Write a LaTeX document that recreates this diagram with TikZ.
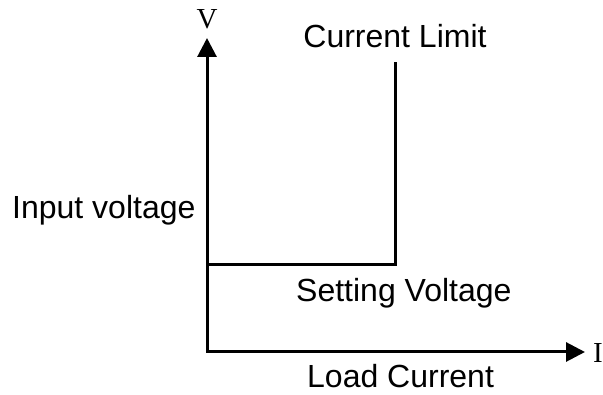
\documentclass[tikz,border=0pt]{standalone}
\usepackage{fontspec}
\setmainfont{Liberation Sans}
\newfontfamily\axisfont{Liberation Serif}
\usetikzlibrary{arrows.meta,positioning}

\begin{document}
\begin{tikzpicture}[
        x=1pt,
        y=-1pt,
        axis/.style={
            {Triangle[length=19pt,width=19pt]}-{Triangle[length=19pt,width=19pt]},
            line width=3pt
        },
        curve/.style={
            line width=3pt
        },
        txt/.style={
            inner sep=0pt,
            font=\fontsize{32}{38}\selectfont
        },
        axislabel/.style={
            inner sep=0pt,
            font=\axisfont\fontsize{29}{34}\selectfont
        }
    ]
        \useasboundingbox (0,0) rectangle (603,395);

        \coordinate (origin) at (207,352);
        \coordinate (vtip) at (207,38);
        \coordinate (itip) at (585,352);
        \coordinate (setting) at (207,265);
        \coordinate (corner) at (395,265);
        \coordinate (limit) at (395,62);

        \node[axislabel] (vlabel) at (207,19) {V};
        \node[axislabel] (ilabel) at (598,353) {I};

        \node[txt, anchor=base] (currentlimit) at (395,48) {Current Limit};
        \node[txt, anchor=base west] (inputvoltage) at (12,219) {Input voltage};
        \node[txt, anchor=base west] (settingvoltage) at (296,302) {Setting Voltage};
        \node[txt, anchor=base west] (loadcurrent) at (307,388) {Load Current};

        \draw[axis] (vtip) -- (origin) -- (itip);
        \draw[curve] (setting) -- (corner) -- (limit);

    \end{tikzpicture}
\end{document}
